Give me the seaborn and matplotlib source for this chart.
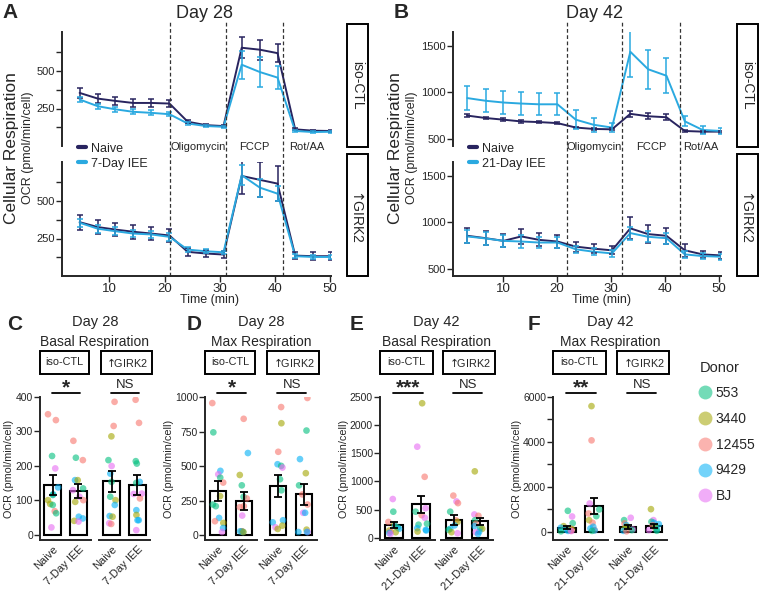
import numpy as np
import pandas as pd
import matplotlib.pyplot as plt
import seaborn as sns
from matplotlib.lines import Line2D
from matplotlib.patches import Rectangle
import matplotlib.transforms as mtransforms

# --- time course (Seahorse OCR, pmol/min/cell) ---
a_time = [4.6, 7.9, 11.0, 14.3, 17.6, 20.9, 24.2, 27.5, 30.7, 34.0, 37.3, 40.5, 43.7, 47.0, 50.2]
a_inject = [21.0, 31.2, 41.5]
a_ctl_naive = [354, 316, 301, 287, 287, 283, 162, 139, 133, 655, 642, 619, 111, 102, 100]
a_ctl_naive_err = [36, 30, 28, 28, 28, 25, 10, 8, 8, 71, 68, 58, 6, 5, 5]
a_ctl_iee = [310, 265, 245, 228, 221, 212, 150, 133, 128, 542, 493, 456, 100, 93, 95]
a_ctl_iee_err = [18, 18, 18, 16, 16, 15, 8, 8, 8, 94, 100, 75, 5, 5, 5]
a_girk_naive = [359, 326, 310, 295, 283, 270, 161, 150, 143, 667, 641, 616, 136, 132, 132]
a_girk_naive_err = [50, 45, 45, 45, 45, 45, 25, 22, 22, 118, 117, 117, 25, 25, 25]
a_girk_iee = [355, 315, 299, 283, 277, 261, 176, 165, 158, 672, 589, 549, 132, 127, 127]
a_girk_iee_err = [25, 25, 25, 25, 25, 25, 15, 12, 12, 68, 60, 50, 12, 12, 12]

b_time = [3.4, 6.8, 10.1, 13.4, 16.7, 20.1, 23.5, 26.8, 30.2, 33.6, 36.9, 40.3, 43.7, 47.0, 50.4]
b_inject = [21.8, 32.1, 42.8]
b_ctl_naive = [748, 722, 704, 685, 678, 667, 619, 604, 600, 767, 741, 730, 582, 575, 575]
b_ctl_naive_err = [20, 15, 15, 15, 15, 15, 10, 10, 10, 35, 30, 30, 10, 10, 10]
b_ctl_iee = [937, 908, 889, 878, 870, 870, 704, 649, 619, 1437, 1248, 1178, 686, 593, 582]
b_ctl_iee_err = [130, 125, 125, 125, 120, 120, 100, 75, 50, 274, 212, 190, 55, 40, 35]
b_girk_naive = [854, 828, 799, 847, 810, 792, 737, 715, 697, 934, 872, 854, 697, 653, 642]
b_girk_naive_err = [80, 75, 70, 85, 70, 70, 55, 50, 45, 120, 95, 85, 70, 40, 35]
b_girk_iee = [847, 825, 799, 792, 781, 781, 708, 682, 664, 883, 843, 828, 653, 635, 628]
b_girk_iee_err = [70, 70, 65, 65, 60, 60, 40, 40, 35, 70, 60, 60, 35, 30, 30]

drugs = ['Oligomycin', 'FCCP', 'Rot/AA']

# --- summary bars: [iso Naive, iso IEE, GIRK2 Naive, GIRK2 IEE] ---
c_means = [145, 127, 156, 145]
c_sems = [28, 20, 30, 29]
d_means = [319, 246, 355, 294]
d_sems = [73, 67, 79, 77]
e_means = [224, 597, 316, 292]
e_sems = [52, 152, 82, 61]
f_means = [178, 1154, 222, 266]
f_sems = [74, 355, 100, 100]

donors = ['553', '3440', '12455', '9429', 'BJ']
donor_colors = ['#00BF7D', '#A3A500', '#F8766D', '#00B0F6', '#E76BF3']

# --- individual wells (value, donor) ---
c_iso_naive = [(350, '12455'), (333, '12455'), (229, '553'), (193, 'BJ'), (138, '9429'), (118, '9429'), (116, '553'),
               (101, '3440'), (90, '3440'), (87, '553'), (69, '12455'), (63, '553'), (22, 'BJ')]
c_iso_iee = [(273, '12455'), (224, '553'), (217, '12455'), (159, '9429'), (159, '3440'), (135, '553'), (130, 'BJ'),
             (111, 'BJ'), (101, '12455'), (96, '3440'), (53, '9429'), (48, '9429'), (41, '3440'), (39, 'BJ')]
c_girk_naive = [(386, '12455'), (316, '12455'), (286, '3440'), (217, '553'), (200, 'BJ'), (178, '9429'), (154, '553'),
                (111, '553'), (101, '3440'), (87, '9429'), (55, '9429'), (53, '3440'), (34, 'BJ'), (32, '12455')]
c_girk_iee = [(392, '12455'), (325, '12455'), (214, '553'), (207, '553'), (154, '9429'), (151, '553'), (120, 'BJ'),
              (119, 'BJ'), (106, '12455'), (72, '9429'), (58, '3440'), (43, '9429'), (43, '9429'), (14, 'BJ')]

d_iso_naive = [(956, '12455'), (744, '553'), (465, '9429'), (440, 'BJ'), (416, '553'), (380, '12455'), (282, '3440'),
               (221, '553'), (209, '553'), (124, '9429'), (100, '12455'), (88, '3440'), (51, '9429'), (22, 'BJ')]
d_iso_iee = [(842, '12455'), (594, '9429'), (435, '3440'), (360, '553'), (277, '553'), (265, '12455'), (209, '12455'),
             (202, '12455'), (141, 'BJ'), (27, 'BJ'), (27, '3440'), (27, '9429'), (22, '9429'), (22, '3440')]
d_girk_naive = [(927, '12455'), (810, '3440'), (603, '12455'), (513, '9429'), (501, '553'), (489, 'BJ'), (404, '553'),
                (324, '553'), (107, '9429'), (92, '9429'), (68, '3440'), (56, 'BJ'), (44, '3440')]
d_girk_iee = [(993, '12455'), (757, '553'), (550, '9429'), (448, '3440'), (360, '553'), (294, '12455'), (221, '12455'),
              (161, 'BJ'), (161, '9429'), (39, '3440'), (22, 'BJ'), (22, '9429'), (22, '9429')]

e_iso_naive = [(687, 'BJ'), (462, '553'), (280, '12455'), (231, '3440'), (207, '9429'), (180, '553'), (158, '9429'),
               (128, '3440'), (109, '12455'), (97, '3440'), (85, '9429'), (67, 'BJ')]
e_iso_iee = [(2389, '3440'), (1617, 'BJ'), (1082, '12455'), (523, 'BJ'), (462, '553'), (401, '12455'), (353, 'BJ'),
             (249, '553'), (231, '553'), (170, '9429'), (140, '9429'), (128, '9429'), (109, '3440')]
e_girk_naive = [(748, '12455'), (644, 'BJ'), (614, '12455'), (462, '553'), (310, '12455'), (280, '3440'), (219, '9429'),
                (158, '9429'), (140, '553'), (97, '3440'), (79, 'BJ')]
e_girk_iee = [(1179, '3440'), (413, 'BJ'), (389, '12455'), (310, '553'), (249, '12455'), (207, '9429'), (170, '553'),
              (158, '3440'), (109, '9429'), (97, 'BJ'), (67, '9429')]

f_iso_naive = [(932, '553'), (680, 'BJ'), (380, '553'), (250, '3440'), (180, '9429'), (140, '12455'), (110, '3440'),
               (90, '9429'), (70, '3440'), (50, '12455'), (40, '9429'), (30, 'BJ'), (20, '553')]
f_iso_iee = [(5594, '3440'), (4070, '12455'), (1258, 'BJ'), (992, '553'), (814, '12455'), (696, '553'), (518, '3440'),
             (400, '12455'), (222, '9429'), (148, '9429'), (74, '12455'), (60, '9429'), (40, '553')]
f_girk_naive = [(622, 'BJ'), (518, '553'), (370, '12455'), (296, '9429'), (222, '3440'), (148, '3440'), (104, 'BJ'),
                (74, '553'), (40, '9429'), (20, '12455')]
f_girk_iee = [(1006, '3440'), (518, 'BJ'), (444, '553'), (400, '9429'), (340, '9429'), (296, '12455'), (222, '553'),
              (178, '3440'), (104, '9429'), (74, 'BJ'), (44, '553')]

NAIVE_C = '#28245F'
IEE_C = '#2AA9E0'
GIRK_LABEL = r'$\uparrow\!\!$GIRK2'

sns.set_theme(style='ticks')
plt.rcParams['font.family'] = ['Liberation Sans', 'DejaVu Sans']
plt.rcParams['mathtext.fontset'] = 'dejavusans'
plt.rcParams['axes.linewidth'] = 1.4
np.random.seed(7)

W, H = 760, 592
fig = plt.figure(figsize=(W / 100, H / 100), dpi=100)


def px_axes(x0, y0, x1, y1):
    return fig.add_axes([x0 / W, 1 - y1 / H, (x1 - x0) / W, (y1 - y0) / H])


def fig_text(x, y, s, **kw):
    fig.text(x / W, 1 - y / H, s, **kw)


def plot_timecourse(ax, time, naive, naive_err, iee, iee_err):
    n = len(time)
    df = pd.DataFrame({'time': time * 2, 'ocr': naive + iee,
                       'group': ['Naive'] * n + ['IEE'] * n})
    sns.lineplot(data=df, x='time', y='ocr', hue='group', palette={'Naive': NAIVE_C, 'IEE': IEE_C},
                 linewidth=1.4, errorbar=None, legend=False, ax=ax)
    ax.errorbar(time, naive, yerr=naive_err, fmt='none', ecolor=NAIVE_C, elinewidth=1.1, capsize=2.5, capthick=1.1)
    ax.errorbar(time, iee, yerr=iee_err, fmt='none', ecolor=IEE_C, elinewidth=1.1, capsize=2.5, capthick=1.1)
    ax.set_xlabel('')
    ax.set_ylabel('')
    ax.tick_params(labelsize=8, length=4, width=1, pad=1)
    sns.despine(ax=ax)


def side_box(x0, y0, x1, y1, label):
    fig.patches.append(Rectangle((x0 / W, 1 - y1 / H), (x1 - x0) / W, (y1 - y0) / H,
                                 transform=fig.transFigure, fill=False, lw=1.4, edgecolor='black'))
    fig_text((x0 + x1) / 2, (y0 + y1) / 2, label, rotation=-90, ha='center', va='center', fontsize=10)


def time_panel(x0, x1, yl_x, time, inject, ctl, girk, ylim, yticks, yticklabels, xlim, iee_label, title, letter):
    ax_top = px_axes(x0, 32, x1, 146)
    ax_bot = px_axes(x0, 162, x1, 276)
    plot_timecourse(ax_top, time, *ctl)
    plot_timecourse(ax_bot, time, *girk)
    for ax in (ax_top, ax_bot):
        ax.set_xlim(*xlim)
        ax.set_ylim(*ylim)
        ax.set_yticks(yticks)
        ax.set_yticklabels(yticklabels)
    ax_top.spines['bottom'].set_visible(False)
    ax_top.set_xticks([])
    ax_bot.set_xticks([10, 20, 30, 40, 50])
    ax_bot.tick_params(axis='x', labelsize=9.5)
    for t in inject:
        ax_bot.axvline(t, ymin=0, ymax=(276 - 22) / 114, color='#333333', lw=0.9, ls=(0, (3, 2)), clip_on=False)
    trans = mtransforms.blended_transform_factory(ax_bot.transData, ax_bot.transAxes)
    edges = inject + [xlim[1]]
    for i, d in enumerate(drugs):
        ax_bot.text((edges[i] + edges[i + 1]) / 2, (276 - 147) / 114, d, transform=trans,
                    ha='center', va='center', fontsize=8)
    handles = [Line2D([], [], color=NAIVE_C, lw=3), Line2D([], [], color=IEE_C, lw=3)]
    ax_bot.legend(handles, ['Naive', iee_label], loc='upper left', bbox_to_anchor=(0.06, 1.17),
                  frameon=False, fontsize=9, handlelength=0.6, handletextpad=0.4, labelspacing=0.25,
                  borderaxespad=0, borderpad=0)
    ax_bot.set_xlabel('Time (min)', fontsize=9)
    ax_bot.xaxis.set_label_coords(148 / (x1 - x0), -0.16)
    fig_text(yl_x, 148, 'Cellular Respiration', rotation=90, ha='center', va='center', fontsize=12.5)
    fig_text(yl_x + 16, 148, 'OCR (pmol/min/cell)', rotation=90, ha='center', va='center', fontsize=9)
    fig_text((x0 + x1) / 2 + 8, 13, title, ha='center', va='center', fontsize=13)
    fig_text(x0 - 52, 13, letter, ha='center', va='center', fontsize=15, fontweight='bold')
    side_box(x1 + 16, 24, x1 + 37, 147, 'iso-CTL')
    side_box(x1 + 16, 154, x1 + 37, 276, GIRK_LABEL)


time_panel(62, 331, 12, a_time, a_inject,
           (a_ctl_naive, a_ctl_naive_err, a_ctl_iee, a_ctl_iee_err),
           (a_girk_naive, a_girk_naive_err, a_girk_iee, a_girk_iee_err),
           (0, 760), [125, 250, 375, 500, 625], ['', '250', '', '500', ''], (1.4, 50.2),
           '7-Day IEE', 'Day 28', 'A')
time_panel(453, 721, 396, b_time, b_inject,
           (b_ctl_naive, b_ctl_naive_err, b_ctl_iee, b_ctl_iee_err),
           (b_girk_naive, b_girk_naive_err, b_girk_iee, b_girk_iee_err),
           (420, 1650), [500, 1000, 1500], ['500', '1000', '1500'], (0.75, 50.4),
           '21-Day IEE', 'Day 42', 'B')


# --- bar panels ---
def bar_group(ax, points, means, sems, iee_label):
    order = ['Naive', iee_label]
    df = pd.DataFrame({'cond': [order[0]] * len(points[0]) + [order[1]] * len(points[1]),
                       'ocr': [p[0] for p in points[0]] + [p[0] for p in points[1]],
                       'donor': [p[1] for p in points[0]] + [p[1] for p in points[1]]})
    sns.barplot(x=order, y=means, order=order, color='white', edgecolor='black', linewidth=1.5,
                width=0.65, saturation=1, errorbar=None, ax=ax)
    sns.stripplot(data=df, x='cond', y='ocr', hue='donor', order=order, hue_order=donors,
                  palette=donor_colors, jitter=0.22, size=4.8, alpha=0.6, linewidth=0, legend=False, ax=ax)
    ax.errorbar([0, 1], means, yerr=sems, fmt='none', ecolor='black', elinewidth=1.3,
                capsize=3, capthick=1.3, zorder=5)
    ax.set_xlim(-0.5, 1.5)
    ax.set_xlabel('')
    ax.set_ylabel('')
    ax.set_xticks([0, 1])
    ax.set_xticklabels(order, rotation=45, ha='right', rotation_mode='anchor', fontsize=8)
    ax.tick_params(axis='x', length=0, pad=3)
    ax.tick_params(axis='y', labelsize=7.5, length=4, width=1, pad=1)
    sns.despine(ax=ax)


def sig_box(ax, label, sig, x0, x1):
    ax.add_patch(Rectangle((x0, 1.16), x1 - x0, 0.165, transform=ax.transAxes, fill=False,
                           lw=1.4, edgecolor='black', clip_on=False))
    ax.text((x0 + x1) / 2, 1.2425, label, transform=ax.transAxes, ha='center', va='center', fontsize=7.8)
    trans = mtransforms.blended_transform_factory(ax.transData, ax.transAxes)
    ax.plot([-0.02, 1.08], [1.025, 1.025], transform=trans, color='black', lw=1.3, clip_on=False)
    if sig == 'NS':
        ax.text(0.53, 1.04, sig, transform=trans, ha='center', va='bottom', fontsize=9.5)
    else:
        ax.text(0.53, 1.0, sig, transform=trans, ha='center', va='bottom', fontsize=15, fontweight='bold')


def bar_panel(xl, xr, iso_pts, girk_pts, means, sems, ylim, yticks, sig, title, iee_label, letter, letter_x,
              minor=None):
    ax_l = px_axes(xl[0], 397, xl[1], 540)
    ax_r = px_axes(xr[0], 397, xr[1], 540)
    bar_group(ax_l, iso_pts, means[:2], sems[:2], iee_label)
    bar_group(ax_r, girk_pts, means[2:], sems[2:], iee_label)
    for ax in (ax_l, ax_r):
        ax.set_ylim(*ylim)
        ax.set_yticks(yticks)
        if minor is not None:
            ax.set_yticks(minor, minor=True)
            ax.tick_params(axis='y', which='minor', length=4, width=1)
    ax_r.spines['left'].set_visible(False)
    ax_r.tick_params(axis='y', which='both', left=False, labelleft=False)
    ax_l.set_ylabel('OCR (pmol/min/cell)', fontsize=7.8, labelpad=1)
    sig_box(ax_l, 'iso-CTL', sig, 0.0, 0.96)
    sig_box(ax_r, GIRK_LABEL, 'NS', 0.03, 1.03)
    cx = (xl[0] + xr[1]) / 2
    fig_text(cx, 322, title[0], ha='center', va='center', fontsize=10.5)
    fig_text(cx, 342, title[1], ha='center', va='center', fontsize=10)
    fig_text(letter_x, 325, letter, ha='center', va='center', fontsize=15, fontweight='bold')


bar_panel((40, 91), (99, 150), (c_iso_naive, c_iso_iee), (c_girk_naive, c_girk_iee), c_means, c_sems,
          (-14.5, 400), [0, 100, 200, 300, 400], '*', ('Day 28', 'Basal Respiration'), '7-Day IEE', 'C', 15)
bar_panel((205, 257), (265, 317), (d_iso_naive, d_iso_iee), (d_girk_naive, d_girk_iee), d_means, d_sems,
          (-36, 1000), [0, 250, 500, 750, 1000], '*', ('Day 28', 'Max Respiration'), '7-Day IEE', 'D', 194)
bar_panel((380, 435), (441, 493), (e_iso_naive, e_iso_iee), (e_girk_naive, e_girk_iee), e_means, e_sems,
          (-41, 2500), [0, 500, 1000, 1500, 2000, 2500], '***', ('Day 42', 'Basal Respiration'), '21-Day IEE',
          'E', 357)
bar_panel((553, 608), (615, 667), (f_iso_naive, f_iso_iee), (f_girk_naive, f_girk_iee), f_means, f_sems,
          (-367, 6000), [0, 2000, 4000, 6000], '**', ('Day 42', 'Max Respiration'), '21-Day IEE', 'F', 534,
          minor=[1000, 3000, 5000])

# --- donor legend ---
fig_text(700, 368, 'Donor', ha='left', va='center', fontsize=10.5)
donor_handles = [Line2D([], [], marker='o', ls='', markersize=10, markerfacecolor=c, markeredgewidth=0, alpha=0.55)
                 for c in donor_colors]
fig.legend(donor_handles, donors, loc='upper left', bbox_to_anchor=(699 / W, 1 - 386 / H),
           frameon=False, fontsize=10, labelspacing=0.85, handletextpad=0.3, handlelength=0.9,
           borderaxespad=0, borderpad=0)

fig.savefig('out.png', dpi=100)
